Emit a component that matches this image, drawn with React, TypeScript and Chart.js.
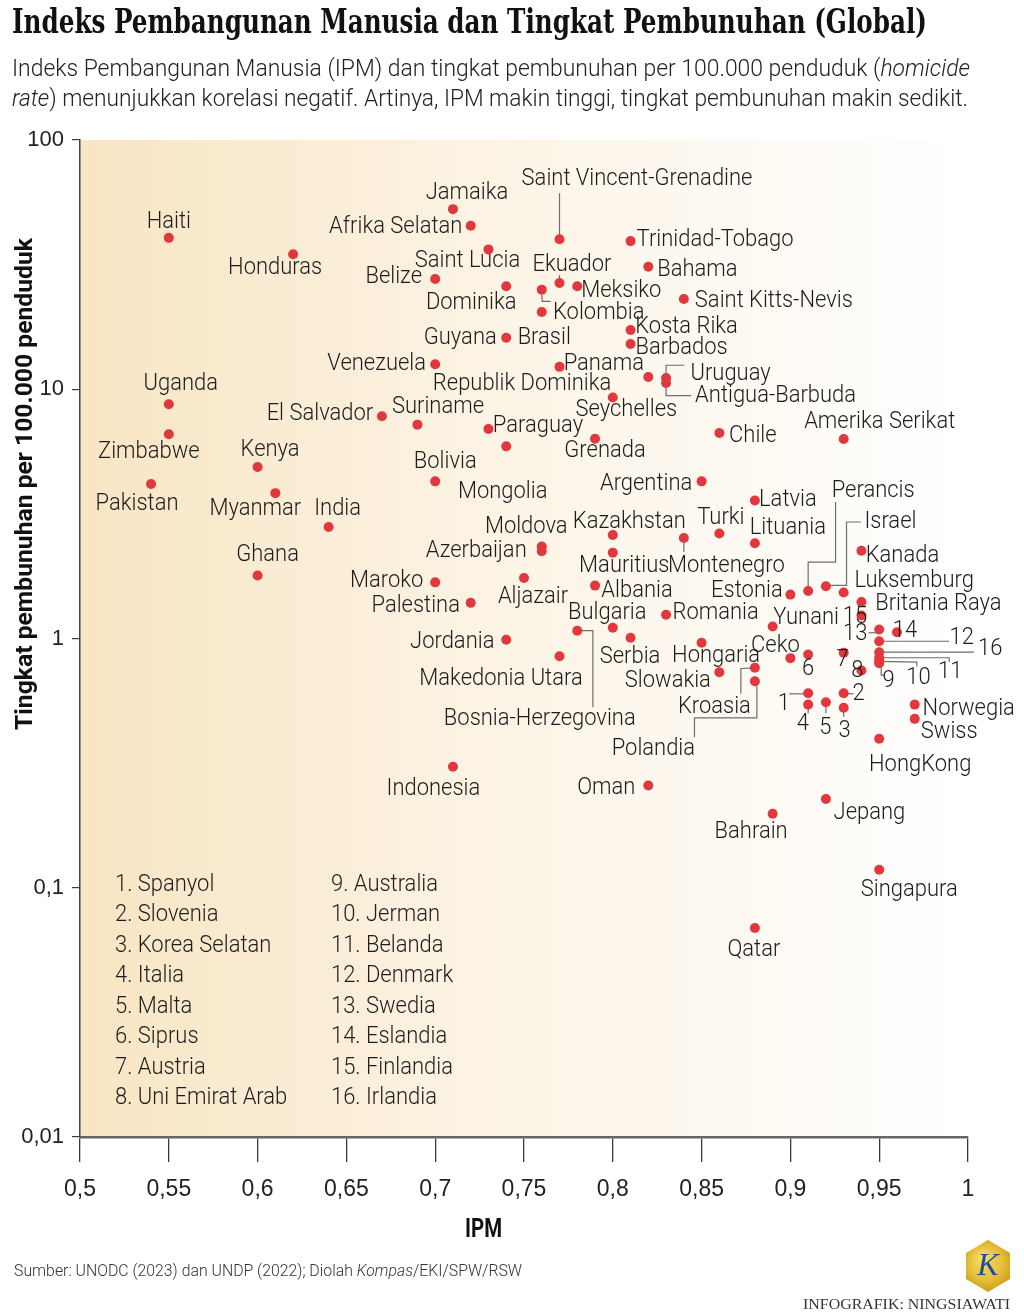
import React, { useEffect, useRef } from 'react';
import { Chart, registerables } from 'chart.js';

Chart.register(...registerables);

// ---------------- DATA ----------------
const countries = [
  'Haiti', 'Honduras', 'Uganda', 'Zimbabwe', 'Pakistan', 'Kenya', 'Myanmar', 'India', 'Ghana', 'El Salvador',
  'Suriname', 'Venezuela', 'Belize', 'Jamaika', 'Afrika Selatan', 'Saint Lucia', 'Dominika', 'Guyana', 'Kolombia', 'Brasil',
  'Ekuador', 'Saint Vincent-Grenadine', 'Meksiko', 'Trinidad-Tobago', 'Bahama', 'Saint Kitts-Nevis', 'Kosta Rika', 'Barbados', 'Republik Dominika', 'Panama',
  'Uruguay', 'Antigua-Barbuda', 'Seychelles', 'Paraguay', 'Mongolia', 'Grenada', 'Chile', 'Amerika Serikat', 'Bolivia', 'Argentina',
  'Latvia', 'Kazakhstan', 'Turki', 'Montenegro', 'Lituania', 'Moldova', 'Azerbaijan', 'Mauritius', 'Aljazair', 'Albania',
  'Maroko', 'Palestina', 'Romania', 'Bulgaria', 'Serbia', 'Bosnia-Herzegovina', 'Jordania', 'Makedonia Utara', 'Hongaria', 'Slowakia',
  'Kroasia', 'Polandia', 'Indonesia', 'Oman', 'Estonia', 'Perancis', 'Israel', 'Kanada', 'Luksemburg', 'Britania Raya',
  'Yunani', 'Finlandia', 'Eslandia', 'Swedia', 'Denmark', 'Irlandia', 'Belanda', 'Jerman', 'Australia', 'Uni Emirat Arab',
  'Austria', 'Siprus', 'Ceko', 'Spanyol', 'Slovenia', 'Italia', 'Malta', 'Korea Selatan', 'Norwegia', 'Swiss',
  'HongKong', 'Jepang', 'Bahrain', 'Singapura', 'Qatar',
];

const ipm = [
  0.55, 0.62, 0.55, 0.55, 0.54, 0.60, 0.61, 0.64, 0.60, 0.67,
  0.69, 0.70, 0.70, 0.71, 0.72, 0.73, 0.74, 0.74, 0.76, 0.76,
  0.77, 0.77, 0.78, 0.81, 0.82, 0.84, 0.81, 0.81, 0.77, 0.82,
  0.83, 0.83, 0.80, 0.73, 0.74, 0.79, 0.86, 0.93, 0.70, 0.85,
  0.88, 0.80, 0.86, 0.84, 0.88, 0.76, 0.76, 0.80, 0.75, 0.79,
  0.70, 0.72, 0.83, 0.80, 0.81, 0.78, 0.74, 0.77, 0.85, 0.86,
  0.88, 0.88, 0.71, 0.82, 0.90, 0.91, 0.92, 0.94, 0.93, 0.94,
  0.89, 0.94, 0.96, 0.95, 0.95, 0.95, 0.95, 0.95, 0.95, 0.94,
  0.93, 0.91, 0.90, 0.91, 0.93, 0.91, 0.92, 0.93, 0.97, 0.97,
  0.95, 0.92, 0.89, 0.95, 0.88,
];

const homicideRate = [
  40.5, 34.8, 8.7, 6.6, 4.17, 4.88, 3.83, 2.8, 1.79, 7.79,
  7.21, 12.6, 27.7, 52.8, 45.3, 36.4, 25.9, 16.1, 25.1, 20.4,
  26.7, 40.0, 25.9, 39.3, 31.0, 23.0, 17.3, 15.2, 12.3, 11.2,
  11.1, 10.6, 9.26, 6.93, 5.9, 6.33, 6.68, 6.32, 4.27, 4.27,
  3.58, 2.6, 2.64, 2.53, 2.41, 2.34, 2.24, 2.21, 1.75, 1.63,
  1.68, 1.39, 1.246, 1.105, 1.007, 1.075, 0.988, 0.849, 0.961, 0.732,
  0.763, 0.674, 0.306, 0.257, 1.5, 1.55, 1.62, 2.25, 1.53, 1.4,
  1.117, 1.237, 1.06, 1.087, 0.975, 0.881, 0.837, 0.809, 0.796, 0.744,
  0.876, 0.862, 0.834, 0.603, 0.603, 0.543, 0.555, 0.527, 0.543, 0.476,
  0.396, 0.227, 0.198, 0.118, 0.069,
];

// countries shown by number (legend order)
const numberedCountries = [
  'Spanyol', 'Slovenia', 'Korea Selatan', 'Italia', 'Malta', 'Siprus', 'Austria', 'Uni Emirat Arab',
  'Australia', 'Jerman', 'Belanda', 'Denmark', 'Swedia', 'Eslandia', 'Finlandia', 'Irlandia',
];

const xTickValues = [0.5, 0.55, 0.6, 0.65, 0.7, 0.75, 0.8, 0.85, 0.9, 0.95, 1];
const xTickLabels = ['0,5', '0,55', '0,6', '0,65', '0,7', '0,75', '0,8', '0,85', '0,9', '0,95', '1'];
const yTickValues = [0.01, 0.1, 1, 10, 100];
const yTickLabels = ['0,01', '0,1', '1', '10', '100'];

const titleText = 'Indeks Pembangunan Manusia dan Tingkat Pembunuhan (Global)';
const subtitleLine1 = ['Indeks Pembangunan Manusia (IPM) dan tingkat pembunuhan per 100.000 penduduk (', 'homicide'];
const subtitleLine2 = ['rate', ') menunjukkan korelasi negatif. Artinya, IPM makin tinggi, tingkat pembunuhan makin sedikit.'];
const yAxisTitle = 'Tingkat pembunuhan per 100.000 penduduk';
const xAxisTitle = 'IPM';
const sourceParts = ['Sumber: UNODC (2023) dan UNDP (2022); Diolah ', 'Kompas', '/EKI/SPW/RSW'];
const creditText = 'INFOGRAFIK: NINGSIAWATI';

// ---------------- LAYOUT (label offsets from each point, in px) ----------------
const labelOffset: Record<string, [number, number]> = {
  Haiti: [0, -18], Honduras: [-18, 12], Uganda: [12, -22], Zimbabwe: [-20, 15.5], Pakistan: [-14, 18.5],
  Kenya: [12.5, -19], Myanmar: [-20, 14], India: [9, -20], Ghana: [10, -22.5], 'El Salvador': [-62, -4],
  Suriname: [20.5, -20], Venezuela: [-58.5, -2.5], Belize: [-41.5, -3.5], Jamaika: [14, -18.5],
  'Afrika Selatan': [-75, -0.5], 'Saint Lucia': [-21, 9.5], Dominika: [-35, 14.5], Guyana: [-46, -2],
  Kolombia: [57, 21.5], Brasil: [2.5, 24], Ekuador: [12.5, -19.5], 'Saint Vincent-Grenadine': [77.5, -62.5],
  Meksiko: [44, 2.5], 'Trinidad-Tobago': [84.5, -3.5], Bahama: [49, 1.5], 'Saint Kitts-Nevis': [90, 0],
  'Kosta Rika': [56, -4.5], Barbados: [51, 2.5], 'Republik Dominika': [-37.5, 15], Panama: [-44.5, -14.5],
  Uruguay: [64.5, -6], 'Antigua-Barbuda': [109.5, 11.5], Seychelles: [13.5, 10], Paraguay: [49.5, -4.5],
  Mongolia: [-3.5, 44], Grenada: [10, 10.5], Chile: [33.5, 1], 'Amerika Serikat': [36, -18.5],
  Bolivia: [10, -21], Argentina: [-55.5, 0.5], Latvia: [33, -2.5], Kazakhstan: [16.5, -15], Turki: [1.5, -17],
  Montenegro: [42.5, 25.5], Lituania: [33, -17], Moldova: [-15.5, -21], Azerbaijan: [-65.5, -2.5],
  Mauritius: [11.5, 11], Aljazair: [9, 17], Albania: [42, 3.5], Maroko: [-48.5, -3.5], Palestina: [-55, 1.5],
  Romania: [49.5, -3.5], Bulgaria: [-5.5, -17], Serbia: [-0.5, 17], 'Bosnia-Herzegovina': [-37.5, 86.5],
  Jordania: [-54, 0.5], 'Makedonia Utara': [-58.5, 21], Hongaria: [14.5, 11], Slowakia: [-51.5, 6.5],
  Kroasia: [-40.5, 37.5], Polandia: [-101.5, 66], Indonesia: [-19.5, 20.5], Oman: [-42, 0],
  Estonia: [-43.5, -6], Perancis: [65, -102.5], Israel: [64.5, -66], Kanada: [41, 3], Luksemburg: [70.5, -13.5],
  'Britania Raya': [77, 0], Yunani: [33.5, -11], Finlandia: [-6.5, 0], Eslandia: [8, -3], Swedia: [-24, 2.7],
  Denmark: [82.6, -5.5], Irlandia: [111, -5], Belanda: [71, 12.7], Jerman: [39.3, 14.7], Australia: [9.3, 16.3],
  'Uni Emirat Arab': [-4, -1.7], Austria: [-1, 5], Siprus: [0, 12], Ceko: [-15, -14.5], Spanyol: [-24.3, 9],
  Slovenia: [15, -1], Italia: [-5.3, 17.7], Malta: [-0.6, 23.3], 'Korea Selatan': [1, 21], Norwegia: [54, 2.5],
  Swiss: [34.5, 11.5], HongKong: [41, 24], Jepang: [43.5, 11.5], Bahrain: [-21.5, 16.5], Singapura: [30, 18.5],
  Qatar: [-1, 20.5],
};

const leaderLines: Record<string, number[][]> = {
  Kolombia: [[0, 5], [0.5, 11.7], [9, 11.7]],
  Ekuador: [[0, -8], [0, -4]],
  'Saint Vincent-Grenadine': [[0, -46], [0, -4]],
  Uruguay: [[0, 0], [0, -12.7], [18.3, -12.7]],
  'Antigua-Barbuda': [[0, 0], [0, 12.7], [25, 12.7]],
  Montenegro: [[0, 4], [0, 14]],
  'Bosnia-Herzegovina': [[0, 0], [15.6, 0], [15.6, 76.5]],
  Kroasia: [[0, 0], [-14, 0.7], [-14, 26]],
  Polandia: [[0, 0], [2, 0], [2, 36.7], [-60.4, 36.7], [-60.4, 56]],
  Perancis: [[0, 0], [0, -29], [27.4, -29], [27.4, -89]],
  Israel: [[0, -1], [20.6, -1], [20.6, -64.3], [35, -64.3]],
  Swedia: [[-10.7, 3.3], [-2.4, 3.3]],
  Denmark: [[0, 0], [70, 0]],
  Irlandia: [[0, 0], [94.6, 0]],
  Belanda: [[0, 0], [70, 0], [70, 4.4]],
  Jerman: [[0, 0], [37.6, 0.7], [37.6, 5]],
  Australia: [[2, 0], [2, 12], [5, 12]],
  Spanyol: [[-19, 0.6], [0, 0.6]],
  Slovenia: [[0, 0.5], [10, 0.5]],
  Italia: [[0, 0], [0, 9]],
  Malta: [[0, 0], [0, 11]],
  'Korea Selatan': [[0, 0], [0, 9]],
};

// ---------------- STYLE ----------------
const LABEL_FONT = '300 24px Roboto';
const LABEL_SX = 0.915;
const TEXT_DY = 2;
const TEXT_COLOR = '#1c1c1c';
const DOT_COLOR = 'rgb(224, 56, 60)';

function drawScaled(ctx: CanvasRenderingContext2D, text: string, x: number, y: number, font: string,
  align: CanvasTextAlign, sx: number, color: string) {
  ctx.save();
  ctx.font = font;
  ctx.fillStyle = color;
  ctx.textAlign = align;
  ctx.textBaseline = 'middle';
  ctx.translate(x, y + TEXT_DY);
  ctx.scale(sx, 1);
  ctx.fillText(text, 0, 0);
  ctx.restore();
}

function drawFitted(ctx: CanvasRenderingContext2D, segs: { text: string; font: string }[], x: number, y: number,
  width: number, color: string) {
  ctx.save();
  let total = 0;
  for (const s of segs) { ctx.font = s.font; total += ctx.measureText(s.text).width; }
  const sx = width / total;
  ctx.translate(x, y);
  ctx.scale(sx, 1);
  ctx.fillStyle = color;
  ctx.textAlign = 'left';
  ctx.textBaseline = 'middle';
  let cx = 0;
  for (const s of segs) {
    ctx.font = s.font;
    ctx.fillText(s.text, cx, 0);
    cx += ctx.measureText(s.text).width;
  }
  ctx.restore();
}

function labelFor(name: string) {
  const n = numberedCountries.indexOf(name);
  return n >= 0 ? String(n + 1) : name;
}

const decorPlugin = {
  id: 'decor',
  beforeDraw(chart: any) {
    const { ctx, chartArea } = chart;
    const { left, right, top, bottom } = chartArea;
    ctx.save();
    ctx.fillStyle = '#ffffff';
    ctx.fillRect(0, 0, chart.width, chart.height);
    const g = ctx.createLinearGradient(left, 0, right, 0);
    g.addColorStop(0, '#f8e5c3');
    g.addColorStop(0.45, '#fcf3e4');
    g.addColorStop(1, '#ffffff');
    ctx.fillStyle = g;
    ctx.fillRect(left, top, right - left, bottom - top);
    ctx.restore();
  },
  beforeDatasetsDraw(chart: any) {
    const { ctx } = chart;
    const xs = chart.scales.x;
    const ys = chart.scales.y;
    ctx.save();
    ctx.strokeStyle = '#6e6e6e';
    ctx.lineWidth = 1.2;
    countries.forEach((name, i) => {
      const pts = leaderLines[name];
      if (!pts) return;
      const px = xs.getPixelForValue(ipm[i]);
      const py = ys.getPixelForValue(homicideRate[i]);
      ctx.beginPath();
      pts.forEach((p, k) => {
        if (k === 0) ctx.moveTo(px + p[0], py + p[1]);
        else ctx.lineTo(px + p[0], py + p[1]);
      });
      ctx.stroke();
    });
    ctx.restore();
  },
  afterDatasetsDraw(chart: any) {
    const { ctx } = chart;
    const xs = chart.scales.x;
    const ys = chart.scales.y;
    countries.forEach((name, i) => {
      const off = labelOffset[name] || [0, -18];
      const px = xs.getPixelForValue(ipm[i]);
      const py = ys.getPixelForValue(homicideRate[i]);
      drawScaled(ctx, labelFor(name), px + off[0], py + off[1], LABEL_FONT, 'center', LABEL_SX, TEXT_COLOR);
    });
  },
  afterDraw(chart: any) {
    const { ctx } = chart;
    // Title
    drawFitted(ctx, [{ text: titleText, font: 'bold 33px "DejaVu Serif Condensed", "DejaVu Serif", "Liberation Serif"' }], 12, 24, 915, '#111111');
    // Subtitle
    drawFitted(ctx, [
      { text: subtitleLine1[0], font: '300 24px Roboto' },
      { text: subtitleLine1[1], font: 'italic 300 24px Roboto' },
    ], 12, 70, 958, '#222222');
    drawFitted(ctx, [
      { text: subtitleLine2[0], font: 'italic 300 24px Roboto' },
      { text: subtitleLine2[1], font: '300 24px Roboto' },
    ], 12, 100, 956, '#222222');
    // Y axis title
    ctx.save();
    ctx.translate(26, 484);
    ctx.rotate(-Math.PI / 2);
    drawFitted(ctx, [{ text: yAxisTitle, font: 'bold 23px Roboto' }], -246, 0, 492, '#111111');
    ctx.restore();
    // X axis title
    drawFitted(ctx, [{ text: xAxisTitle, font: 'bold 26px Roboto' }], 465, 1230, 37, '#111111');
    // Legend of numbered countries
    numberedCountries.forEach((name, i) => {
      const col = i < 8 ? 0 : 1;
      const row = i % 8;
      drawScaled(ctx, `${i + 1}. ${name}`, col === 0 ? 115 : 331, 883 + row * 30.45, LABEL_FONT, 'left', LABEL_SX, TEXT_COLOR);
    });
    // Source
    drawFitted(ctx, [
      { text: sourceParts[0], font: '300 17px Roboto' },
      { text: sourceParts[1], font: 'italic 300 17px Roboto' },
      { text: sourceParts[2], font: '300 17px Roboto' },
    ], 14, 1272, 508, '#333333');
    // Credit
    drawFitted(ctx, [{ text: creditText, font: '15px "Liberation Serif"' }], 803, 1305, 207, '#333333');
    // Logo
    ctx.save();
    ctx.translate(988, 1266);
    const lg = ctx.createRadialGradient(-6, -8, 2, 0, 0, 28);
    lg.addColorStop(0, '#f8dc6a');
    lg.addColorStop(0.6, '#e6bd35');
    lg.addColorStop(1, '#c7981c');
    ctx.fillStyle = lg;
    ctx.beginPath();
    const hex = [[0, -26], [22, -13], [22, 13], [0, 26], [-22, 13], [-22, -13]];
    hex.forEach((p, k) => (k === 0 ? ctx.moveTo(p[0], p[1]) : ctx.lineTo(p[0], p[1])));
    ctx.closePath();
    ctx.fill();
    ctx.font = 'italic 32px "Liberation Serif"';
    ctx.fillStyle = '#1f4f9a';
    ctx.textAlign = 'center';
    ctx.textBaseline = 'middle';
    ctx.fillText('K', 0, 1);
    ctx.restore();
  },
};

export default function App() {
  const canvasRef = useRef<HTMLCanvasElement | null>(null);

  useEffect(() => {
    const canvas = canvasRef.current;
    if (!canvas) return;
    const chart = new Chart(canvas, {
      type: 'scatter',
      data: {
        datasets: [{
          label: 'IPM vs tingkat pembunuhan',
          data: countries.map((_, i) => ({ x: ipm[i], y: homicideRate[i] })),
          backgroundColor: DOT_COLOR,
          borderWidth: 0,
          pointRadius: 5,
          pointHoverRadius: 5,
        }],
      },
      options: {
        responsive: false,
        maintainAspectRatio: false,
        animation: false,
        events: [],
        layout: { padding: { top: 140, right: 56, bottom: 0, left: 0 } },
        plugins: {
          legend: { display: false },
          tooltip: { enabled: false },
          title: { display: false },
        },
        scales: {
          x: {
            type: 'linear',
            min: 0.5,
            max: 1,
            afterBuildTicks: (s: any) => { s.ticks = xTickValues.map((v) => ({ value: v })); },
            afterFit: (s: any) => { s.height = 177; },
            grid: { drawOnChartArea: false, drawTicks: true, tickLength: 25, color: '#3a3a3a', lineWidth: 1.3 },
            border: { display: true, color: '#666666', width: 2.5 },
            ticks: {
              autoSkip: false,
              maxRotation: 0,
              padding: 14,
              color: '#222222',
              font: { family: '"Liberation Sans Narrow", "Liberation Sans", sans-serif', size: 23 },
              callback: (_v: any, i: number) => xTickLabels[i],
            },
          },
          y: {
            type: 'logarithmic',
            min: 0.01,
            max: 100,
            afterBuildTicks: (s: any) => { s.ticks = yTickValues.map((v) => ({ value: v })); },
            afterFit: (s: any) => { s.width = 80; },
            grid: { drawOnChartArea: false, drawTicks: true, tickLength: 8, color: '#3a3a3a', lineWidth: 1.2 },
            border: { display: true, color: '#444444', width: 1.5 },
            ticks: {
              padding: 8,
              color: '#222222',
              font: { family: '"Liberation Sans Narrow", "Liberation Sans", sans-serif', size: 22 },
              callback: (_v: any, i: number) => yTickLabels[i],
            },
          },
        },
      },
      plugins: [decorPlugin],
    } as any);
    return () => chart.destroy();
  }, []);

  return (
    <div style={{ position: 'absolute', left: 0, top: 0, width: 1024, height: 1314, background: '#ffffff' }}>
      <canvas ref={canvasRef} width={1024} height={1314} style={{ display: 'block' }} />
    </div>
  );
}
